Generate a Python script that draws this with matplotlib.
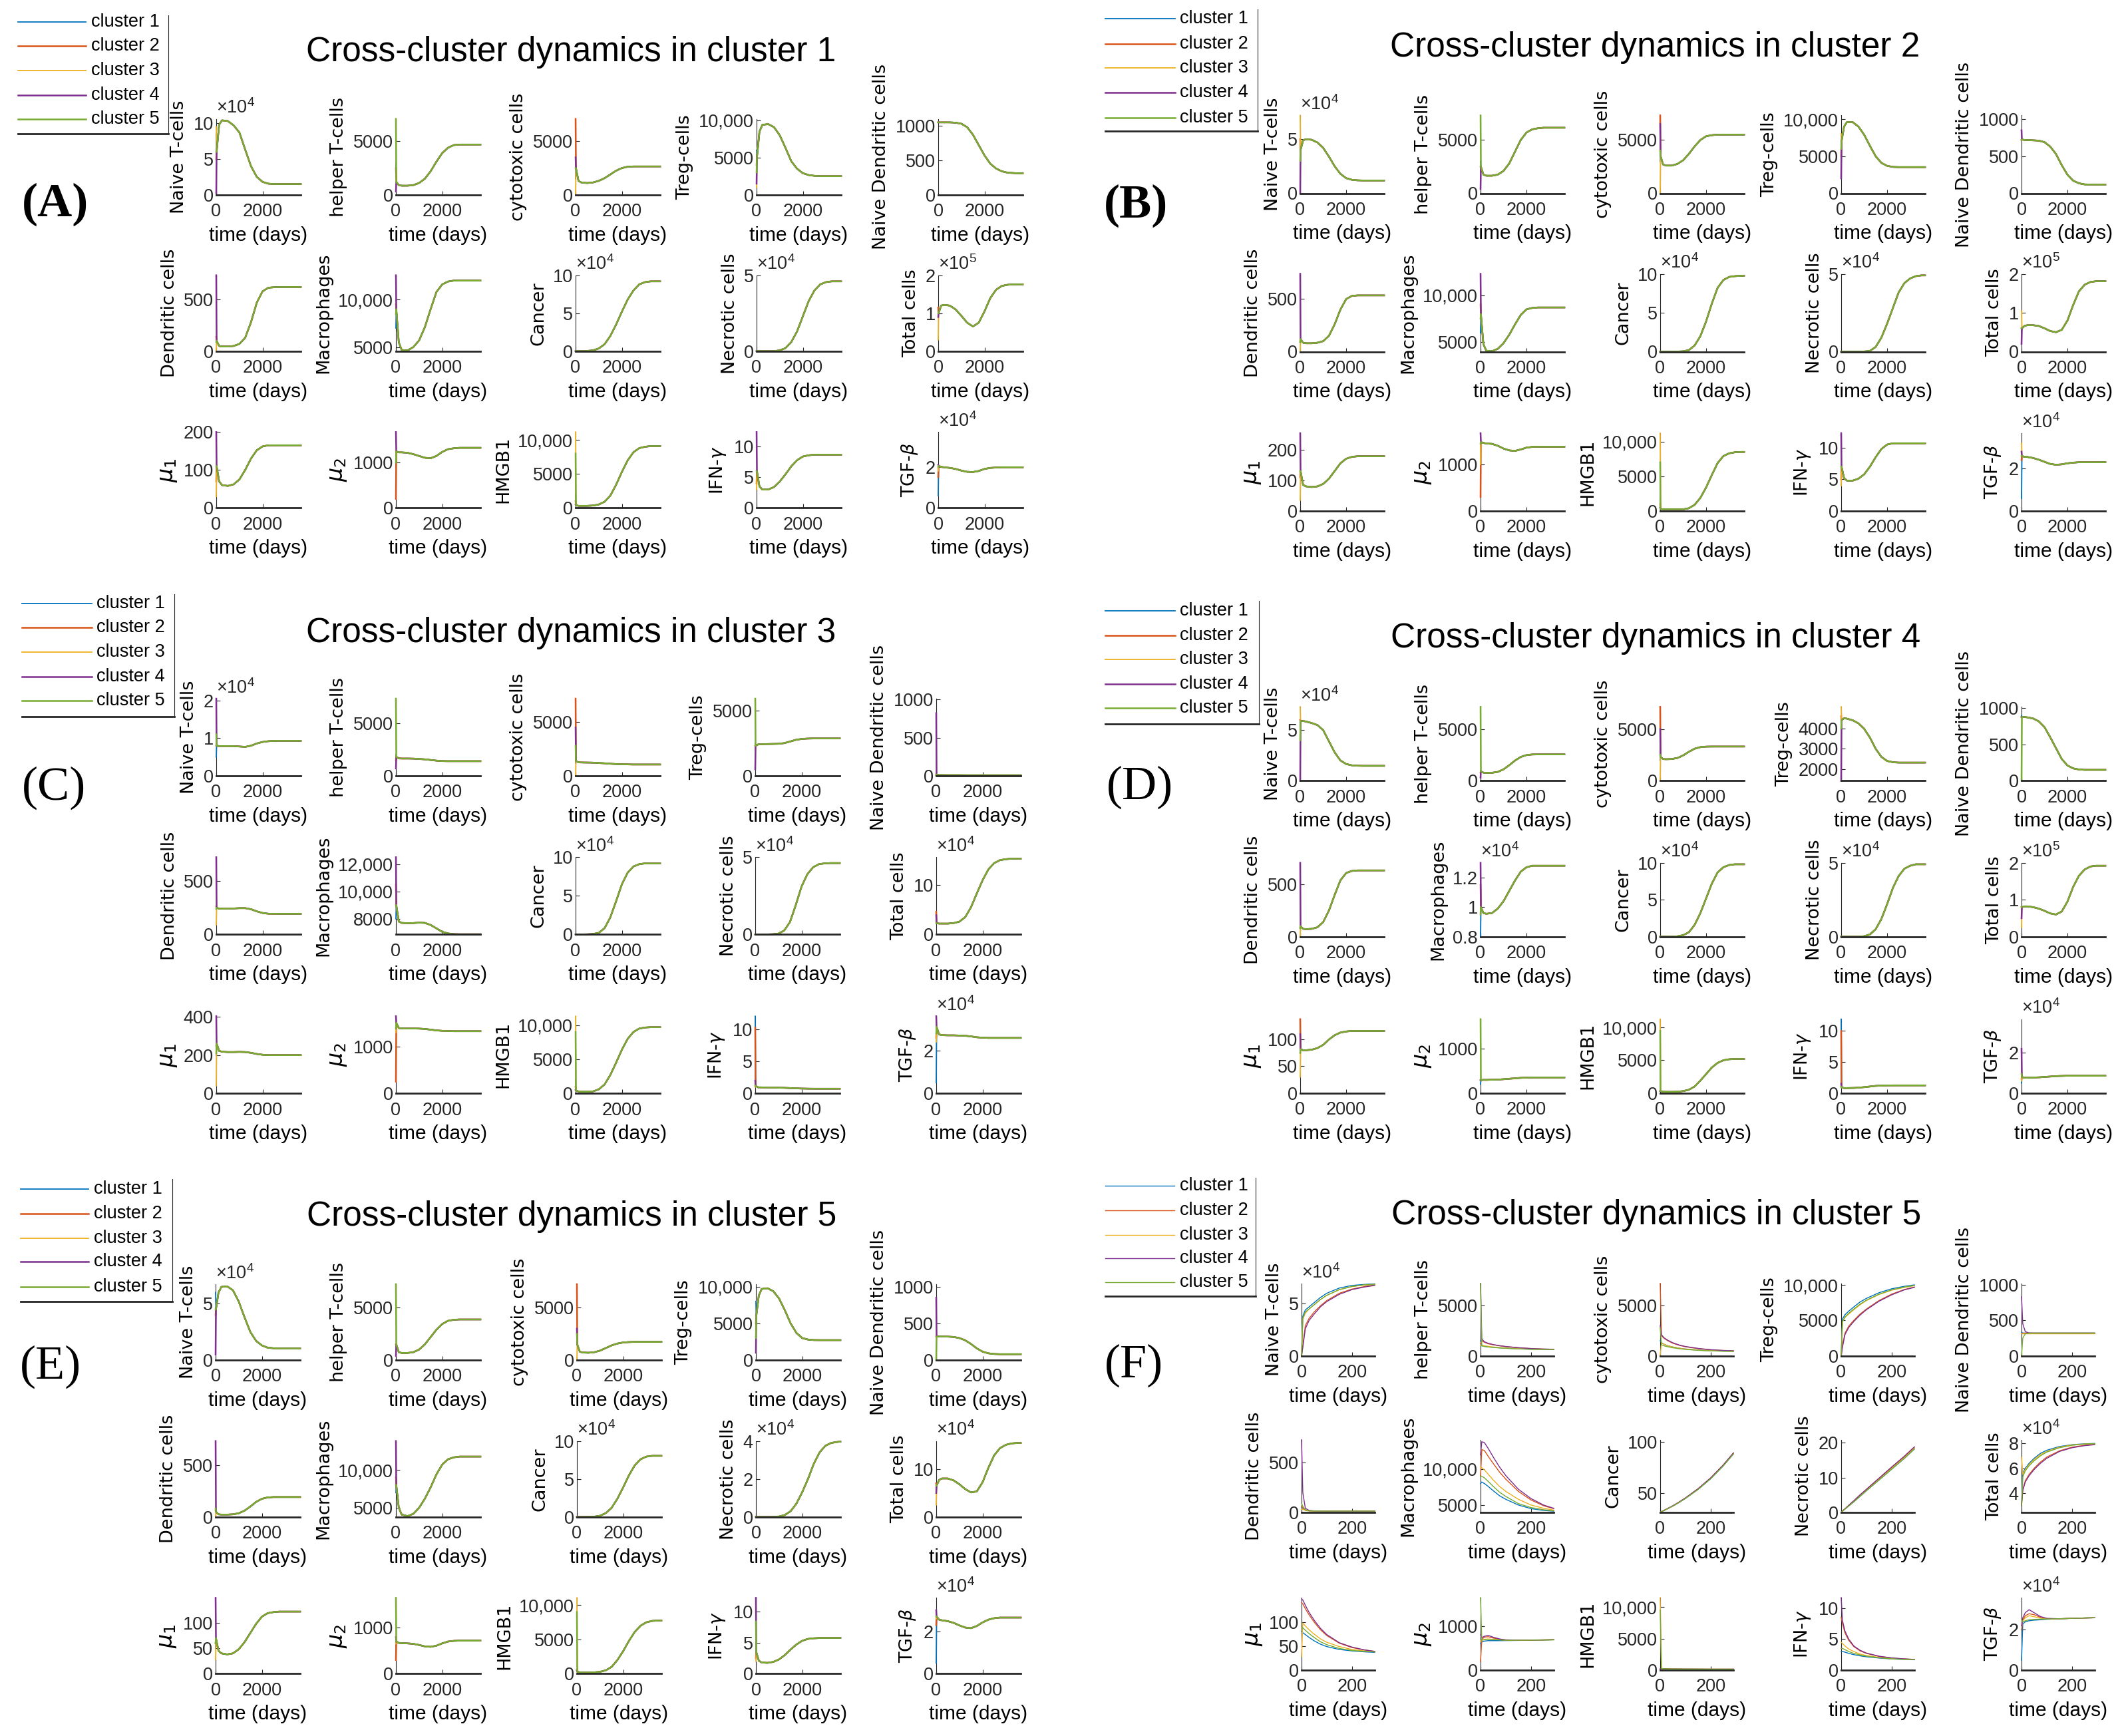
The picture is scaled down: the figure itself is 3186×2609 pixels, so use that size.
import matplotlib
matplotlib.use('Agg')
import matplotlib.pyplot as plt
from matplotlib.lines import Line2D

plt.rcParams['font.family'] = ['Liberation Sans', 'DejaVu Sans']
plt.rcParams['mathtext.fontset'] = 'dejavusans'

W, H = 3186, 2609

# ---------------------------------------------------------------- data
CLUSTERS = ["cluster 1", "cluster 2", "cluster 3", "cluster 4", "cluster 5"]
COLORS = ["#0072BD", "#D95319", "#EDB120", "#7E2F8E", "#77AC30"]
VAR_LABELS = ["Naive T-cells", "helper T-cells", "cytotoxic cells", "Treg-cells",
              "Naive Dendritic cells", "Dendritic cells", "Macrophages", "Cancer",
              "Necrotic cells", "Total cells", r"$\mu_1$", r"$\mu_2$", "HMGB1",
              r"IFN-$\gamma$", r"TGF-$\beta$"]
TITLES = ["Cross-cluster dynamics in cluster 1", "Cross-cluster dynamics in cluster 2",
          "Cross-cluster dynamics in cluster 3", "Cross-cluster dynamics in cluster 4",
          "Cross-cluster dynamics in cluster 5", "Cross-cluster dynamics in cluster 5"]
PANEL_LABELS = ["(A)", "(B)", "(C)", "(D)", "(E)", "(F)"]

# time grid of the long runs (panels A-E); first value of each series is the
# cluster-specific initial value, the rest is the shared trajectory
T_LONG = [0, 15, 125, 250, 500, 750, 1000, 1250, 1500, 1750, 2000, 2250, 2500,
          2750, 3000, 3250, 3500, 3650]
T_SHORT = [0, 5, 15, 30, 50, 75, 100, 150, 200, 250, 290]

# ---- panel A (cluster 1)
A_common = [
    [60000, 98000, 104000, 103000, 97000, 87000, 63000, 40000, 25000, 18000, 15500, 15000, 15000, 15000, 15000, 15000, 15000],
    [1200, 900, 850, 850, 900, 1100, 1500, 2200, 3100, 3900, 4400, 4650, 4700, 4700, 4700, 4700, 4700],
    [2500, 1300, 1150, 1100, 1150, 1300, 1550, 1900, 2250, 2500, 2620, 2650, 2650, 2650, 2650, 2650, 2650],
    [5000, 8500, 9400, 9500, 9100, 8000, 6300, 4500, 3500, 2900, 2650, 2550, 2500, 2500, 2500, 2500, 2500],
    [1050, 1050, 1050, 1050, 1045, 1030, 980, 870, 720, 570, 450, 380, 340, 320, 315, 310, 310],
    [100, 50, 45, 45, 50, 70, 130, 280, 470, 580, 615, 620, 622, 622, 622, 622, 622],
    [9000, 5500, 4700, 4650, 5000, 5700, 7100, 9000, 10800, 11600, 11900, 12000, 12000, 12000, 12000, 12000, 12000],
    [0, 0, 0, 300, 1000, 3500, 9000, 20000, 35000, 52000, 68000, 80000, 88000, 91000, 92000, 92000, 92000],
    [0, 0, 0, 0, 0, 500, 2000, 6000, 13000, 23000, 33000, 40000, 44000, 45500, 46000, 46000, 46000],
    [100000, 120000, 122000, 120000, 110000, 93000, 75000, 65000, 75000, 105000, 140000, 162000, 172000, 175000, 176000, 176000, 176000],
    [110, 70, 60, 58, 62, 75, 100, 130, 152, 162, 165, 165, 165, 165, 165, 165, 165],
    [1250, 1230, 1230, 1220, 1190, 1150, 1110, 1100, 1150, 1240, 1300, 1320, 1330, 1330, 1330, 1330, 1330],
    [400, 300, 300, 300, 350, 500, 900, 1800, 3400, 5300, 7000, 8200, 8800, 9000, 9100, 9100, 9100],
    [6, 3.5, 3.0, 3.0, 3.4, 4.3, 5.5, 6.8, 7.8, 8.4, 8.6, 8.7, 8.7, 8.7, 8.7, 8.7, 8.7],
    [20500, 20000, 19800, 19500, 19000, 18200, 17600, 17500, 18000, 19000, 19500, 19700, 19800, 19800, 19800, 19800, 19800],
]
A_init = [
    [85000, 50000, 95000, 2000, 60000], [3000, 2500, 1500, 300, 7100], [1500, 7100, 100, 3500, 2500],
    [6000, 4000, 1000, 1500, 3000], [1050, 1050, 1050, 1050, 1050], [100, 140, 0, 736, 90],
    [7000, 9500, 10000, 12560, 8500], [0, 0, 0, 0, 0], [0, 0, 0, 0, 0],
    [110000, 115000, 30000, 90000, 100000], [80, 70, 30, 200, 110], [900, 200, 1100, 1680, 1000],
    [2000, 1000, 11170, 500, 8000], [5, 4, 3, 12.4, 6], [6000, 15000, 18000, 21000, 20000],
]
A_ylim = [(0, 106000), (0, 7100), (0, 7100), (0, 10200), (0, 1100), (0, 736), (4580, 12560),
          (0, 100000), (0, 50000), (0, 200000), (0, 200), (0, 1680), (0, 11170), (0, 12.4), (0, 37000)]
A_yticks = [[0, 50000, 100000], [0, 5000], [0, 5000], [0, 5000, 10000], [0, 500, 1000], [0, 500],
            [5000, 10000], [0, 50000, 100000], [0, 50000], [0, 100000, 200000], [0, 100, 200],
            [0, 1000], [0, 5000, 10000], [0, 5, 10], [0, 20000]]
A_exp = [4, 0, 0, 0, 0, 0, 0, 4, 4, 5, 0, 0, 0, 0, 4]

# ---- panel B (cluster 2)
B_common = [
    [40000, 49000, 50000, 49500, 47000, 42000, 34000, 25000, 18000, 14000, 12500, 12000, 11800, 11800, 11800, 11800, 11800],
    [2500, 1750, 1650, 1650, 1750, 2100, 2800, 3900, 5000, 5700, 6000, 6100, 6150, 6150, 6150, 6150, 6150],
    [3500, 2700, 2600, 2600, 2750, 3100, 3700, 4400, 5000, 5350, 5450, 5500, 5500, 5500, 5500, 5500, 5500],
    [7000, 9000, 9600, 9600, 9000, 7900, 6400, 5000, 4100, 3700, 3560, 3530, 3530, 3530, 3530, 3530, 3530],
    [725, 720, 718, 715, 710, 690, 630, 530, 380, 250, 170, 135, 120, 118, 117, 117, 117],
    [120, 85, 80, 80, 85, 100, 150, 260, 400, 500, 530, 535, 535, 535, 535, 535, 535],
    [8000, 4800, 4100, 4050, 4300, 4900, 5800, 6900, 7900, 8500, 8650, 8700, 8700, 8700, 8700, 8700, 8700],
    [0, 0, 0, 0, 100, 500, 2000, 8000, 20000, 39000, 62000, 82000, 92000, 96000, 97000, 97500, 97500],
    [0, 0, 0, 0, 0, 100, 500, 3000, 9000, 18000, 28000, 38000, 44000, 47000, 48500, 49000, 49000],
    [60000, 66000, 68000, 68000, 66000, 60000, 53000, 50000, 56000, 80000, 120000, 155000, 172000, 179000, 181000, 181000, 181000],
    [130, 85, 80, 78, 80, 88, 105, 130, 155, 170, 176, 178, 178, 178, 178, 178, 178],
    [1480, 1460, 1450, 1440, 1400, 1340, 1300, 1290, 1320, 1360, 1375, 1378, 1378, 1378, 1378, 1378, 1378],
    [300, 250, 250, 250, 250, 250, 400, 900, 1900, 3400, 5200, 6900, 7900, 8300, 8450, 8500, 8500],
    [7, 5.2, 4.8, 4.8, 5.1, 5.8, 7.0, 8.5, 9.8, 10.5, 10.7, 10.7, 10.7, 10.7, 10.7, 10.7, 10.7],
    [26000, 25500, 25500, 25000, 24200, 23200, 22200, 21800, 22000, 22500, 22800, 23000, 23000, 23000, 23000, 23000, 23000],
]
B_init = [
    [45000, 50000, 72000, 0, 30000], [3000, 2500, 2000, 400, 7300], [3000, 7300, 0, 6500, 4000],
    [3000, 5000, 8000, 2000, 6000], [720, 720, 720, 850, 720], [100, 100, 0, 740, 90],
    [6000, 9000, 10000, 12280, 7500], [0, 0, 0, 0, 0], [0, 0, 0, 0, 0],
    [50000, 60000, 105000, 20000, 60000], [120, 110, 35, 253, 130], [1400, 300, 1000, 1670, 1450],
    [2000, 1000, 11200, 500, 7000], [6, 5, 4, 12.3, 7], [6000, 24000, 32000, 28000, 26000],
]
B_ylim = [(0, 72000), (0, 7300), (0, 7300), (0, 10500), (0, 1050), (0, 740), (4000, 12280),
          (0, 100000), (0, 50000), (0, 200000), (0, 253), (0, 1670), (0, 11200), (0, 12.3), (0, 36700)]
B_yticks = [[0, 50000], [0, 5000], [0, 5000], [0, 5000, 10000], [0, 500, 1000], [0, 500],
            [5000, 10000], [0, 50000, 100000], [0, 50000], [0, 100000, 200000], [0, 100, 200],
            [0, 1000], [0, 5000, 10000], [0, 5, 10], [0, 20000]]
B_exp = [4, 0, 0, 0, 0, 0, 0, 4, 4, 5, 0, 0, 0, 0, 4]

# ---- panel C (cluster 3)
C_common = [
    [8000, 7900, 7900, 7900, 7900, 7800, 7700, 8000, 8600, 9000, 9200, 9300, 9300, 9300, 9300, 9300, 9300],
    [1800, 1650, 1640, 1640, 1630, 1600, 1560, 1500, 1440, 1400, 1390, 1390, 1390, 1390, 1390, 1390, 1390],
    [1400, 1260, 1250, 1240, 1230, 1200, 1170, 1130, 1100, 1080, 1070, 1060, 1060, 1060, 1060, 1060, 1060],
    [2300, 2400, 2420, 2430, 2440, 2450, 2500, 2620, 2750, 2820, 2850, 2860, 2860, 2860, 2860, 2860, 2860],
    [15, 10, 10, 9, 9, 9, 8, 8, 8, 8, 8, 8, 8, 8, 8, 8, 8],
    [250, 240, 240, 240, 242, 245, 245, 235, 215, 200, 193, 192, 192, 192, 192, 192, 192],
    [9000, 7800, 7700, 7680, 7690, 7720, 7700, 7550, 7300, 7050, 6930, 6880, 6870, 6870, 6870, 6870, 6870],
    [0, 0, 0, 100, 500, 2000, 8000, 22000, 43000, 65000, 80000, 88000, 91000, 92000, 92000, 92000, 92000],
    [0, 0, 0, 0, 100, 500, 2500, 8000, 19000, 31000, 39000, 43500, 45500, 46000, 46200, 46200, 46200],
    [23000, 22000, 22000, 22000, 23000, 26000, 35000, 55000, 83000, 110000, 132000, 145000, 151000, 153000, 154000, 154000, 154000],
    [260, 222, 218, 216, 216, 217, 216, 212, 206, 202, 200, 200, 200, 200, 200, 200, 200],
    [1500, 1390, 1380, 1380, 1380, 1378, 1370, 1355, 1340, 1330, 1325, 1322, 1322, 1322, 1322, 1322, 1322],
    [400, 300, 250, 250, 300, 600, 1300, 2700, 4500, 6400, 8000, 9000, 9500, 9650, 9700, 9700, 9700],
    [1.2, 0.95, 0.95, 0.93, 0.92, 0.9, 0.88, 0.84, 0.8, 0.77, 0.75, 0.74, 0.74, 0.74, 0.74, 0.74, 0.74],
    [31000, 27500, 27200, 27100, 27100, 27000, 26900, 26600, 26200, 26000, 25900, 25900, 25900, 25900, 25900, 25900, 25900],
]
C_init = [
    [5000, 8000, 9000, 20500, 11000], [2000, 1500, 1000, 700, 7300], [1200, 7200, 0, 4500, 2800],
    [2500, 2300, 2000, 500, 5900], [10, 20, 8, 820, 8], [240, 260, 90, 720, 240],
    [8000, 10500, 10000, 12500, 9000], [0, 0, 0, 0, 0], [0, 0, 0, 0, 0],
    [25000, 46000, 30000, 39000, 23000], [200, 250, 40, 403, 210], [1400, 250, 1300, 1640, 1380],
    [2000, 1000, 11300, 500, 9000], [12.1, 10.3, 1, 2, 1.2], [5000, 26000, 24000, 36000, 28000],
]
C_ylim = [(0, 20500), (0, 7300), (0, 7200), (0, 5900), (0, 1010), (0, 720), (6860, 12500),
          (0, 100000), (0, 50000), (0, 157000), (0, 403), (0, 1640), (0, 11300), (0, 12.1), (0, 36000)]
C_yticks = [[0, 10000, 20000], [0, 5000], [0, 5000], [0, 5000], [0, 500, 1000], [0, 500],
            [8000, 10000, 12000], [0, 50000, 100000], [0, 50000], [0, 100000], [0, 200, 400],
            [0, 1000], [0, 5000, 10000], [0, 5, 10], [0, 20000]]
C_exp = [4, 0, 0, 0, 0, 0, 0, 4, 4, 4, 0, 0, 0, 0, 4]

# ---- panel D (cluster 4)
D_common = [
    [59000, 59000, 58500, 57000, 55000, 50000, 39000, 28000, 20000, 16500, 15200, 14800, 14700, 14700, 14700, 14700, 14700],
    [900, 780, 760, 770, 850, 1100, 1500, 1950, 2300, 2480, 2540, 2550, 2550, 2550, 2550, 2550, 2550],
    [2300, 2100, 2080, 2100, 2200, 2450, 2800, 3100, 3250, 3300, 3310, 3310, 3310, 3310, 3310, 3310, 3310],
    [4400, 4500, 4480, 4400, 4250, 3980, 3550, 3000, 2600, 2400, 2340, 2320, 2320, 2320, 2320, 2320, 2320],
    [880, 880, 875, 860, 820, 740, 600, 450, 300, 210, 170, 155, 150, 150, 150, 150, 150],
    [100, 75, 72, 75, 90, 140, 250, 400, 540, 610, 630, 635, 635, 635, 635, 635, 635],
    [10000, 9600, 9550, 9600, 9900, 10400, 11100, 11800, 12400, 12700, 12800, 12800, 12800, 12800, 12800, 12800, 12800],
    [0, 0, 0, 0, 500, 2000, 6000, 16000, 32000, 52000, 72000, 87000, 94000, 97000, 98000, 98000, 98000],
    [0, 0, 0, 0, 0, 300, 1500, 5000, 12000, 22000, 33000, 41000, 46000, 48000, 49000, 49000, 49000],
    [80000, 82000, 82000, 80000, 76000, 70000, 63000, 60000, 68000, 95000, 135000, 165000, 182000, 190000, 192000, 192000, 192000],
    [82, 80, 80, 81, 84, 90, 100, 108, 113, 115, 116, 116, 116, 116, 116, 116, 116],
    [290, 295, 295, 298, 300, 310, 320, 330, 340, 345, 348, 348, 348, 348, 348, 348, 348],
    [300, 200, 180, 180, 200, 300, 500, 1000, 1900, 2900, 3900, 4600, 5000, 5150, 5200, 5200, 5200],
    [0.9, 0.8, 0.8, 0.82, 0.86, 0.95, 1.05, 1.15, 1.2, 1.22, 1.23, 1.23, 1.23, 1.23, 1.23, 1.23, 1.23],
    [8000, 7600, 7600, 7700, 7800, 8000, 8200, 8400, 8500, 8600, 8600, 8600, 8600, 8600, 8600, 8600, 8600],
]
D_init = [
    [55000, 60000, 73000, 0, 40000], [1000, 800, 700, 300, 7150], [2000, 7150, 0, 5000, 2500],
    [4500, 4600, 5060, 1430, 4000], [900, 880, 880, 880, 0], [90, 90, 0, 708, 80],
    [8000, 11500, 10000, 13000, 9500], [0, 0, 0, 0, 0], [0, 0, 0, 0, 0],
    [70000, 80000, 25000, 50000, 80000], [80, 138, 30, 110, 75], [200, 290, 290, 290, 1655],
    [300, 300, 11270, 300, 9500], [11.9, 10, 1, 1.5, 1], [5000, 7000, 6000, 22000, 9500],
]
D_ylim = [(0, 73000), (0, 7150), (0, 7150), (1430, 5060), (0, 1020), (0, 708), (8000, 13000),
          (0, 100000), (0, 50000), (0, 200000), (0, 138), (0, 1655), (0, 11270), (0, 11.9), (0, 36700)]
D_yticks = [[0, 50000], [0, 5000], [0, 5000], [2000, 3000, 4000], [0, 500, 1000], [0, 500],
            [8000, 10000, 12000], [0, 50000, 100000], [0, 50000], [0, 100000, 200000], [0, 50, 100],
            [0, 1000], [0, 5000, 10000], [0, 5, 10], [0, 20000]]
D_exp = [4, 0, 0, 0, 0, 0, 4, 4, 4, 5, 0, 0, 0, 0, 4]

# ---- panel E (cluster 5, long run)
E_common = [
    [45000, 60000, 65000, 65500, 62000, 52000, 38000, 25000, 17000, 13000, 11000, 10500, 10300, 10300, 10300, 10300, 10300],
    [1500, 750, 680, 680, 750, 1000, 1500, 2200, 2900, 3450, 3750, 3850, 3880, 3880, 3880, 3880, 3880],
    [1500, 800, 720, 700, 750, 900, 1150, 1400, 1580, 1680, 1720, 1740, 1740, 1740, 1740, 1740, 1740],
    [6000, 8800, 9700, 9800, 9400, 8400, 6800, 5000, 3700, 3000, 2800, 2730, 2720, 2720, 2720, 2720, 2720],
    [320, 322, 322, 320, 315, 300, 270, 220, 160, 115, 92, 83, 80, 80, 80, 80, 80],
    [50, 25, 22, 22, 25, 35, 60, 100, 145, 175, 188, 192, 192, 192, 192, 192, 192],
    [8000, 5000, 4100, 3900, 4200, 5000, 6200, 7700, 9400, 10700, 11400, 11650, 11750, 11750, 11750, 11750, 11750],
    [0, 0, 0, 100, 300, 1500, 5000, 12000, 24000, 39000, 55000, 68000, 76000, 79500, 80500, 80500, 80500],
    [0, 0, 0, 0, 0, 200, 1000, 3000, 7000, 13000, 20000, 28000, 34000, 37500, 39000, 39500, 39700],
    [65000, 77000, 80000, 80000, 76000, 68000, 58000, 51000, 53000, 72000, 102000, 128000, 143000, 150000, 153000, 154000, 154000],
    [70, 45, 40, 38, 40, 48, 62, 80, 98, 112, 119, 121, 122, 122, 122, 122, 122],
    [700, 670, 665, 660, 650, 625, 595, 585, 610, 660, 700, 715, 720, 720, 720, 720, 720],
    [300, 200, 180, 180, 200, 280, 500, 1000, 2000, 3300, 4800, 6100, 7000, 7500, 7700, 7750, 7750],
    [3.5, 2.1, 1.8, 1.75, 1.9, 2.3, 3.0, 3.9, 4.7, 5.3, 5.6, 5.7, 5.75, 5.75, 5.75, 5.75, 5.75],
    [27000, 25500, 25200, 24800, 24000, 22800, 21800, 21500, 22500, 24200, 25500, 26200, 26500, 26500, 26500, 26500, 26500],
]
E_init = [
    [60000, 40000, 30000, 5000, 45000], [1500, 1500, 1000, 400, 7250], [1500, 7250, 0, 3000, 2500],
    [8000, 5000, 6000, 1000, 3000], [320, 320, 320, 850, 0], [50, 60, 0, 734, 80],
    [7000, 9000, 11000, 13800, 8000], [0, 0, 0, 0, 0], [0, 0, 0, 0, 0],
    [60000, 70000, 25000, 50000, 65000], [50, 60, 28, 149, 60], [600, 300, 650, 800, 1650],
    [500, 500, 11060, 500, 9000], [3, 2.5, 2, 12.2, 8.4], [5000, 23000, 26000, 30000, 27000],
]
E_ylim = [(0, 67400), (0, 7250), (0, 7250), (0, 10350), (0, 1035), (0, 734), (3800, 13800),
          (0, 100000), (0, 40000), (0, 158000), (0, 149), (0, 1650), (0, 11060), (0, 12.2), (0, 35800)]
E_yticks = [[0, 50000], [0, 5000], [0, 5000], [0, 5000, 10000], [0, 500, 1000], [0, 500],
            [5000, 10000], [0, 50000, 100000], [0, 20000, 40000], [0, 100000], [0, 50, 100],
            [0, 1000], [0, 5000, 10000], [0, 5, 10], [0, 20000]]
E_exp = [4, 0, 0, 0, 0, 0, 0, 4, 4, 4, 0, 0, 0, 0, 4]

# ---- panel F (cluster 5, first 290 days; one series per cluster)
F_naive = [[0, 38000, 44000, 47000, 51000, 56000, 60000, 65000, 67500, 68500, 69000],
           [0, 10000, 29000, 36000, 42000, 48000, 53000, 60000, 64000, 66500, 68000],
           [0, 35000, 41000, 45000, 49000, 54000, 58000, 63500, 66500, 68000, 68500],
           [0, 8000, 26000, 34000, 40000, 47000, 52000, 59000, 63500, 66000, 67500],
           [0, 36000, 42000, 45000, 49000, 54000, 58000, 63500, 66500, 68000, 68500]]
F_helper = [[1500, 1000, 950, 900, 850, 800, 760, 700, 660, 640, 630],
            [1200, 1500, 1350, 1200, 1100, 1000, 920, 800, 720, 670, 650],
            [1000, 1050, 1000, 950, 880, 820, 780, 710, 670, 645, 635],
            [7190, 1700, 1400, 1250, 1120, 1010, 930, 810, 730, 680, 655],
            [7190, 1000, 930, 880, 840, 790, 750, 690, 655, 635, 625]]
F_cyto = [[1500, 1300, 1150, 1000, 880, 760, 680, 570, 510, 470, 450],
          [7190, 2000, 1750, 1500, 1250, 1050, 900, 720, 600, 530, 500],
          [0, 1300, 1150, 1000, 880, 760, 680, 570, 510, 475, 455],
          [3000, 2100, 1800, 1550, 1300, 1080, 930, 740, 610, 540, 505],
          [2800, 1100, 1000, 900, 800, 710, 640, 550, 495, 465, 450]]
F_treg = [[0, 5200, 5800, 6300, 6900, 7600, 8100, 8900, 9450, 9800, 10000],
          [0, 1500, 3200, 4200, 5000, 5900, 6600, 7800, 8700, 9350, 9700],
          [0, 4800, 5400, 5900, 6500, 7200, 7800, 8650, 9250, 9650, 9900],
          [0, 1200, 3000, 4000, 4850, 5750, 6500, 7700, 8600, 9300, 9650],
          [0, 4800, 5500, 6000, 6600, 7300, 7850, 8700, 9300, 9700, 9900]]
F_ndc = [[330, 322, 320, 320, 320, 320, 320, 320, 320, 320, 320],
         [310, 318, 320, 320, 320, 320, 320, 320, 320, 320, 320],
         [320, 320, 320, 320, 320, 320, 320, 320, 320, 320, 320],
         [830, 450, 340, 322, 320, 320, 320, 320, 320, 320, 320],
         [0, 250, 310, 318, 320, 320, 320, 320, 320, 320, 320]]
F_dc = [[50, 40, 20, 14, 12, 12, 12, 12, 12, 12, 12],
        [60, 45, 22, 15, 13, 12, 12, 12, 12, 12, 12],
        [30, 30, 18, 13, 12, 12, 12, 12, 12, 12, 12],
        [733, 200, 40, 18, 14, 13, 12, 12, 12, 12, 12],
        [90, 60, 25, 15, 13, 12, 12, 12, 12, 12, 12]]
F_macro = [[8000, 8200, 8000, 7600, 7000, 6300, 5800, 5000, 4500, 4250, 4150],
           [9000, 12700, 12600, 11800, 10800, 9600, 8600, 6900, 5700, 4900, 4500],
           [10300, 10200, 9900, 9300, 8500, 7600, 6900, 5800, 5000, 4550, 4300],
           [12000, 13800, 13700, 12900, 11700, 10300, 9100, 7200, 5900, 5000, 4550],
           [9000, 9000, 8800, 8300, 7600, 6800, 6200, 5200, 4650, 4350, 4200]]
F_cancer = [[31, 31.6, 32.7, 34.5, 37, 40.6, 44.5, 53.3, 63.8, 76.4, 88],
            [31, 31.6, 32.8, 34.7, 37.3, 41, 45, 54, 64.6, 77.3, 89],
            [31, 31.6, 32.7, 34.6, 37.1, 40.8, 44.7, 53.6, 64.2, 76.8, 88.5],
            [31, 31.6, 32.8, 34.7, 37.3, 41, 45, 54, 64.6, 77.3, 89],
            [31, 31.6, 32.7, 34.5, 37, 40.6, 44.5, 53.3, 63.8, 76.4, 88]]
F_necro = [[0, 0.3, 0.9, 1.8, 3.0, 4.6, 6.2, 9.3, 12.4, 15.5, 18.2],
           [0, 0.35, 1.0, 2.0, 3.3, 5.0, 6.6, 9.8, 13.0, 16.1, 18.8],
           [0, 0.32, 0.95, 1.9, 3.15, 4.8, 6.4, 9.55, 12.7, 15.8, 18.5],
           [0, 0.35, 1.0, 2.0, 3.3, 5.0, 6.6, 9.8, 13.0, 16.1, 18.8],
           [0, 0.3, 0.9, 1.8, 3.0, 4.6, 6.2, 9.3, 12.4, 15.5, 18.2]]
F_total = [[30000, 56000, 60000, 64000, 68000, 72000, 74500, 77500, 79000, 79700, 80000],
           [30000, 43000, 50000, 55000, 60000, 65000, 69000, 74000, 77000, 78500, 79200],
           [69000, 55000, 59000, 63000, 67000, 71000, 73500, 77000, 78800, 79500, 79800],
           [30000, 42000, 49000, 54000, 59000, 64000, 68000, 73500, 76500, 78200, 79000],
           [30000, 53000, 58000, 62000, 66000, 70000, 73000, 76500, 78500, 79500, 79800]]
F_mu1 = [[80, 78, 74, 68, 61, 54, 49, 43, 40, 38, 37],
         [140, 138, 128, 115, 100, 84, 72, 56, 47, 42, 39],
         [28, 98, 92, 84, 75, 65, 58, 49, 43, 40, 38],
         [148, 146, 135, 120, 104, 87, 74, 57, 48, 42, 39],
         [90, 88, 83, 76, 68, 59, 53, 45, 41, 39, 38]]
F_mu2 = [[600, 640, 660, 670, 670, 670, 672, 676, 680, 685, 690],
         [200, 700, 750, 760, 730, 700, 685, 680, 683, 688, 692],
         [650, 680, 700, 710, 700, 690, 683, 680, 683, 687, 690],
         [800, 740, 770, 790, 750, 710, 690, 682, 685, 689, 693],
         [1650, 680, 690, 700, 695, 688, 682, 679, 683, 687, 690]]
F_hmgb1 = [[200, 250, 200, 180, 170, 165, 160, 155, 150, 150, 150],
           [200, 250, 200, 180, 170, 165, 160, 155, 150, 150, 150],
           [11480, 250, 200, 180, 170, 165, 160, 155, 150, 150, 150],
           [200, 250, 200, 180, 170, 165, 160, 155, 150, 150, 150],
           [9500, 250, 200, 180, 170, 165, 160, 155, 150, 150, 150]]
F_ifn = [[3.0, 3.0, 2.9, 2.7, 2.5, 2.3, 2.15, 1.95, 1.8, 1.72, 1.68],
         [8.5, 7.5, 6.0, 4.8, 3.8, 3.1, 2.7, 2.2, 1.95, 1.8, 1.72],
         [4.5, 4.3, 3.9, 3.4, 3.0, 2.6, 2.35, 2.05, 1.85, 1.75, 1.7],
         [11.7, 8.0, 6.3, 5.0, 3.9, 3.2, 2.75, 2.25, 1.97, 1.82, 1.73],
         [3.5, 3.5, 3.3, 3.0, 2.7, 2.45, 2.25, 2.0, 1.83, 1.74, 1.69]]
F_tgf = [[5000, 23000, 24000, 24500, 24800, 25000, 25200, 25500, 25700, 25900, 26000],
         [20000, 25000, 27000, 28000, 27500, 26200, 25500, 25500, 25700, 25900, 26000],
         [25000, 24500, 26000, 27000, 26500, 25800, 25400, 25500, 25700, 25900, 26000],
         [22000, 26000, 28500, 30000, 28500, 26600, 25700, 25500, 25700, 25900, 26000],
         [25000, 24000, 24500, 25000, 25200, 25300, 25400, 25500, 25700, 25900, 26000]]
F_curves = [F_naive, F_helper, F_cyto, F_treg, F_ndc, F_dc, F_macro, F_cancer, F_necro,
            F_total, F_mu1, F_mu2, F_hmgb1, F_ifn, F_tgf]
F_ylim = [(0, 69500), (0, 7190), (0, 7190), (0, 10220), (0, 1020), (0, 733), (4000, 14090),
          (31, 102), (0, 20.9), (24600, 83000), (0, 151), (0, 1650), (0, 11480), (0, 11.7), (0, 36000)]
F_yticks = [[0, 50000], [0, 5000], [0, 5000], [0, 5000, 10000], [0, 500, 1000], [0, 500],
            [5000, 10000], [50, 100], [0, 10, 20], [40000, 60000, 80000], [0, 50, 100],
            [0, 1000], [0, 5000, 10000], [0, 5, 10], [0, 20000]]
F_exp = [4, 0, 0, 0, 0, 0, 0, 0, 0, 4, 0, 0, 0, 0, 4]

# ---------------------------------------------------------------- layout (pixels)
GEOM = [
    dict(cols=[325, 595, 865, 1137, 1410], rows=[292.7, 527.7, 763.3], w=127, h=114,
         title=(858, 92), label=(83, 307), bold=True,
         leg=dict(x0=27, x1=129, tx=137, ys=[32.7, 69.3, 106, 142.7, 178.7], rx=253, top=23, bot=201)),
    dict(cols=[1954, 2225, 2495, 2767, 3038], rows=[290.5, 528.5, 768], w=126, h=117,
         title=(2487, 85), label=(1707, 309), bold=True,
         leg=dict(x0=1661, x1=1766, tx=1773, ys=[28, 66, 102, 139, 176.5], rx=1890, top=14, bot=197)),
    dict(cols=[325, 595, 865, 1135, 1407], rows=[1166, 1404.3, 1643.3], w=127, h=116,
         title=(858, 965), label=(81, 1184), bold=False,
         leg=dict(x0=33, x1=138, tx=145, ys=[906.7, 943.3, 980, 1016.7, 1053.3], rx=262, top=893, bot=1077)),
    dict(cols=[1954, 2225, 2495, 2767, 3038], rows=[1173.3, 1407.7, 1642.7], w=126, h=111,
         title=(2488, 973), label=(1713, 1183), bold=False,
         leg=dict(x0=1661, x1=1766, tx=1773, ys=[918.3, 955, 991, 1027.7, 1064.3], rx=1892, top=903, bot=1088)),
    dict(cols=[324, 595, 867, 1136, 1407], rows=[2044, 2279.7, 2515.4], w=127, h=114,
         title=(859, 1842), label=(76, 2054), bold=False,
         leg=dict(x0=31, x1=133, tx=141, ys=[1787, 1824, 1861, 1896, 1934], rx=258.5, top=1772, bot=1956)),
    dict(cols=[1956, 2225, 2495, 2767, 3038], rows=[2037.7, 2272.7, 2510], w=110, h=109,
         title=(2489, 1840), label=(1704, 2052), bold=False,
         leg=dict(x0=1661, x1=1765, tx=1773, ys=[1782, 1819, 1856, 1891, 1927], rx=1887, top=1770, bot=1948)),
]

AX_COLOR = "#262626"
LW_LONG = [1.3, 1.8, 1.3, 1.8, 1.8]
LW_SHORT = [1.0, 1.0, 1.0, 1.0, 1.0]

fig = plt.figure(figsize=(W / 100, H / 100), dpi=100)


def fx(x):
    return x / W


def fy(y):
    return 1 - y / H


def fmt(v, e):
    if e:
        return f"{v / 10 ** e:g}"
    if v >= 10000:
        return f"{int(round(v)):,}"
    return f"{v:g}"


def draw_panel(g, series, t, xlim, xticks, ylims, yticks, exps, lws):
    for k in range(15):
        r, c = divmod(k, 5)
        left, bottom = g['cols'][c], g['rows'][r]
        ax = fig.add_axes([fx(left), fy(bottom), g['w'] / W, g['h'] / H])
        for ci in range(5):
            ax.plot(t, series[k][ci], color=COLORS[ci], lw=lws[ci], clip_on=False,
                    zorder=3, solid_joinstyle='round')
        ax.set_xlim(xlim)
        ax.set_ylim(ylims[k])
        ax.set_xticks(xticks)
        ax.set_xticklabels([str(v) for v in xticks])
        ax.set_yticks(yticks[k])
        ax.set_yticklabels([fmt(v, exps[k]) for v in yticks[k]])
        for s in ('top', 'right'):
            ax.spines[s].set_visible(False)
        ax.spines['left'].set_linewidth(0.8)
        ax.spines['left'].set_color(AX_COLOR)
        ax.spines['left'].set_zorder(1)
        ax.spines['bottom'].set_linewidth(2.0)
        ax.spines['bottom'].set_color(AX_COLOR)
        ax.spines['bottom'].set_zorder(5)
        ax.tick_params(axis='y', direction='in', length=4, width=0.8, colors=AX_COLOR,
                       labelsize=19.5, pad=3)
        ax.tick_params(axis='x', direction='in', length=4, width=0.8, colors=AX_COLOR,
                       labelsize=19.5, pad=9)
        lab = VAR_LABELS[k]
        if lab.startswith('$'):
            ax.set_ylabel(lab, fontsize=24, labelpad=5, color='black')
        else:
            ax.set_ylabel(lab, fontsize=19.5, labelpad=6, family=['DejaVu Sans'], color='black')
        ax.set_xlabel('time (days)', fontsize=21.5, labelpad=6, color='black')
        if exps[k]:
            ax.text(0.0, 1.02, r'$\mathregular{\times10^{%d}}$' % exps[k], transform=ax.transAxes,
                    ha='left', va='bottom', fontsize=19.5, color=AX_COLOR)


def draw_frame(g, idx, lws):
    tx, ty = g['title']
    fig.text(fx(tx), fy(ty), TITLES[idx], ha='center', va='baseline', fontsize=37)
    lx, ly = g['label']
    fig.text(fx(lx), fy(ly), PANEL_LABELS[idx], ha='center', va='center', fontsize=52,
             family=['Liberation Serif', 'DejaVu Serif'],
             fontweight='bold' if g['bold'] else 'normal')
    L = g['leg']
    for ci in range(5):
        y = L['ys'][ci]
        fig.add_artist(Line2D([fx(L['x0']), fx(L['x1'])], [fy(y), fy(y)], color=COLORS[ci], lw=lws[ci]))
        fig.text(fx(L['tx']), fy(y), CLUSTERS[ci], ha='left', va='center', fontsize=19.5)
    fig.add_artist(Line2D([fx(L['rx']), fx(L['rx'])], [fy(L['top']), fy(L['bot'])], color=AX_COLOR, lw=0.8))
    fig.add_artist(Line2D([fx(L['x0']), fx(L['rx'])], [fy(L['bot']), fy(L['bot'])], color=AX_COLOR, lw=2.0))


LONG_PANELS = [
    (A_common, A_init, A_ylim, A_yticks, A_exp),
    (B_common, B_init, B_ylim, B_yticks, B_exp),
    (C_common, C_init, C_ylim, C_yticks, C_exp),
    (D_common, D_init, D_ylim, D_yticks, D_exp),
    (E_common, E_init, E_ylim, E_yticks, E_exp),
]

for p, (common, init, ylim, yt, ex) in enumerate(LONG_PANELS):
    series = [[[init[k][ci]] + common[k] for ci in range(5)] for k in range(15)]
    draw_panel(GEOM[p], series, T_LONG, (0, 3650), [0, 2000], ylim, yt, ex, LW_LONG)
    draw_frame(GEOM[p], p, LW_LONG)

draw_panel(GEOM[5], F_curves, T_SHORT, (0, 290), [0, 200], F_ylim, F_yticks, F_exp, LW_SHORT)
draw_frame(GEOM[5], 5, LW_SHORT)

fig.savefig('out.png', dpi=100, facecolor='white')
